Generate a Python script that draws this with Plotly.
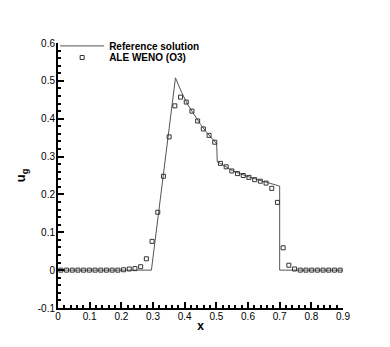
import plotly.graph_objects as go

# reference (exact) solution
ref_x = [0.0, 0.295, 0.371, 0.39, 0.41, 0.43, 0.45, 0.47, 0.49, 0.501, 0.503,
         0.513, 0.55, 0.60, 0.65, 0.70, 0.70, 0.9]
ref_u = [0.0, 0.0, 0.508, 0.470, 0.437, 0.410, 0.385, 0.363, 0.344, 0.334, 0.286,
         0.282, 0.263, 0.247, 0.234, 0.222, 0.0, 0.0]

# ALE WENO (O3) cell values
weno_x = [0.009, 0.027, 0.045, 0.063, 0.081, 0.099, 0.117, 0.135, 0.153, 0.171,
          0.189, 0.207, 0.225, 0.243, 0.261, 0.279, 0.297, 0.315, 0.333, 0.351,
          0.369, 0.387, 0.405, 0.423, 0.441, 0.459, 0.477, 0.495, 0.513, 0.531,
          0.549, 0.567, 0.585, 0.603, 0.621, 0.639, 0.657, 0.675, 0.693, 0.711,
          0.729, 0.747, 0.765, 0.783, 0.801, 0.819, 0.837, 0.855, 0.873, 0.891]
weno_u = [0.0, 0.0, 0.0, 0.0, 0.0, 0.0, 0.0, 0.0, 0.0, 0.0,
          0.0, 0.001, 0.003, 0.004, 0.009, 0.030, 0.076, 0.153, 0.248, 0.352,
          0.434, 0.457, 0.444, 0.420, 0.394, 0.373, 0.356, 0.338, 0.282, 0.273,
          0.262, 0.255, 0.250, 0.245, 0.239, 0.235, 0.230, 0.216, 0.179, 0.059,
          0.013, 0.003, 0.0, 0.0, 0.0, 0.0, 0.0, 0.0, 0.0, 0.0]

x_ticks = [0, 0.1, 0.2, 0.3, 0.4, 0.5, 0.6, 0.7, 0.8, 0.9]
x_labels = ["0", "0.1", "0.2", "0.3", "0.4", "0.5", "0.6", "0.7", "0.8", "0.9"]
y_ticks = [-0.1, 0, 0.1, 0.2, 0.3, 0.4, 0.5, 0.6]
y_labels = ["-0.1", "0", "0.1", "0.2", "0.3", "0.4", "0.5", "0.6"]

font = "Liberation Sans, Arial, sans-serif"

fig = go.Figure()
fig.add_trace(go.Scatter(x=ref_x, y=ref_u, mode="lines", name="<b>Reference solution</b>",
                         line=dict(color="#555555", width=1), legend="legend"))
fig.add_trace(go.Scatter(x=weno_x, y=weno_u, mode="markers", name="<b>ALE WENO (O3)</b>",
                         marker=dict(symbol="square-open", size=4, color="#333333",
                                     line=dict(width=1)),
                         legend="legend2"))

axis_common = dict(showline=True, linecolor="black", linewidth=2, mirror=False,
                   showgrid=False, zeroline=False, ticks="inside", ticklen=6,
                   tickwidth=1.5, tickcolor="black",
                   tickfont=dict(family=font, size=10, color="black"))

fig.update_xaxes(range=[0, 0.9], tickvals=x_ticks, ticktext=x_labels, ticklabelstandoff=-2,
                 minor=dict(dtick=0.02, ticks="inside", ticklen=3, tickcolor="black"),
                 title=dict(text="<b>x</b>", font=dict(family=font, size=12, color="black"),
                            standoff=1),
                 **axis_common)
fig.update_yaxes(range=[-0.1, 0.6], tickvals=y_ticks, ticktext=y_labels, ticklabelstandoff=-1,
                 minor=dict(dtick=0.02, ticks="inside", ticklen=3, tickcolor="black"),
                 title=dict(text="<b>u<sub>g</sub></b>", font=dict(family=font, size=13, color="black"),
                            standoff=9),
                 **axis_common)

leg = dict(xanchor="left", yanchor="top", bgcolor="rgba(0,0,0,0)", borderwidth=0,
           itemwidth=44, font=dict(family=font, size=10, color="black"))

# the page puts the figure 8px in from the top-left corner
fig.update_layout(
    width=390, height=347,
    margin=dict(l=43, r=55, t=35, b=47),
    paper_bgcolor="white", plot_bgcolor="white",
    showlegend=True,
    legend=dict(x=-0.01, y=1.0437, **leg),
    legend2=dict(x=-0.01, y=1.0, **leg),
)

fig.write_html("out.html")
